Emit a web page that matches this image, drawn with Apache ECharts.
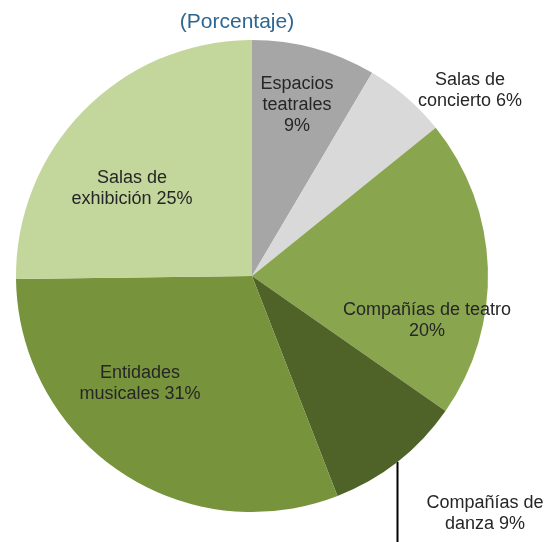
<!DOCTYPE html>
<html><head><meta charset="utf-8">
<script src="https://cdn.jsdelivr.net/npm/echarts@6/dist/echarts.min.js"></script>
<style>html,body{margin:0;padding:0;background:#fff}#c{width:548px;height:542px}</style>
</head><body><div id="c"></div>
<script>
const categories = ["Espacios teatrales", "Salas de concierto", "Compañías de teatro", "Compañías de danza", "Entidades musicales", "Salas de exhibición"];
const values = [8.5, 5.7, 20.5, 9.4, 30.7, 25.2];
const labelTexts = ["Espacios\nteatrales\n9%", "Salas de\nconcierto 6%", "Compañías de teatro\n20%", "Compañías de\ndanza 9%", "Entidades\nmusicales 31%", "Salas de\nexhibición 25%"];
const colors = ["#a6a6a6", "#d9d9d9", "#89a54e", "#4f6228", "#77933c", "#c3d69b"];
const labelPos = [[297, 105], [470, 91], [427, 321], [485, 514], [140, 384], [132, 189]];

const chart = echarts.init(document.getElementById('c'), null, {renderer: 'canvas'});
chart.setOption({
  animation: false,
  backgroundColor: '#fff',
  title: {
    text: '(Porcentaje)', left: 232, top: 7, textAlign: 'center',
    textStyle: {fontFamily: 'Liberation Sans', fontSize: 21, fontWeight: 'normal', color: '#2f6690'}
  },
  graphic: [{
    type: 'line', shape: {x1: 397.5, y1: 462, x2: 397.5, y2: 545},
    style: {stroke: '#000', lineWidth: 2}
  }],
  series: [{
    type: 'pie',
    center: [252, 276],
    radius: 236,
    startAngle: 90,
    clockwise: true,
    silent: true,
    data: categories.map((c, i) => ({name: c, value: values[i], itemStyle: {color: colors[i]}})),
    label: {
      show: true,
      position: 'inside',
      formatter: p => labelTexts[p.dataIndex],
      fontFamily: 'Liberation Sans', fontSize: 18, lineHeight: 21, color: '#262626', align: 'center'
    },
    labelLine: {show: false},
    labelLayout: p => ({x: labelPos[p.dataIndex][0], y: labelPos[p.dataIndex][1], align: 'center', verticalAlign: 'middle'})
  }]
});
</script></body></html>
